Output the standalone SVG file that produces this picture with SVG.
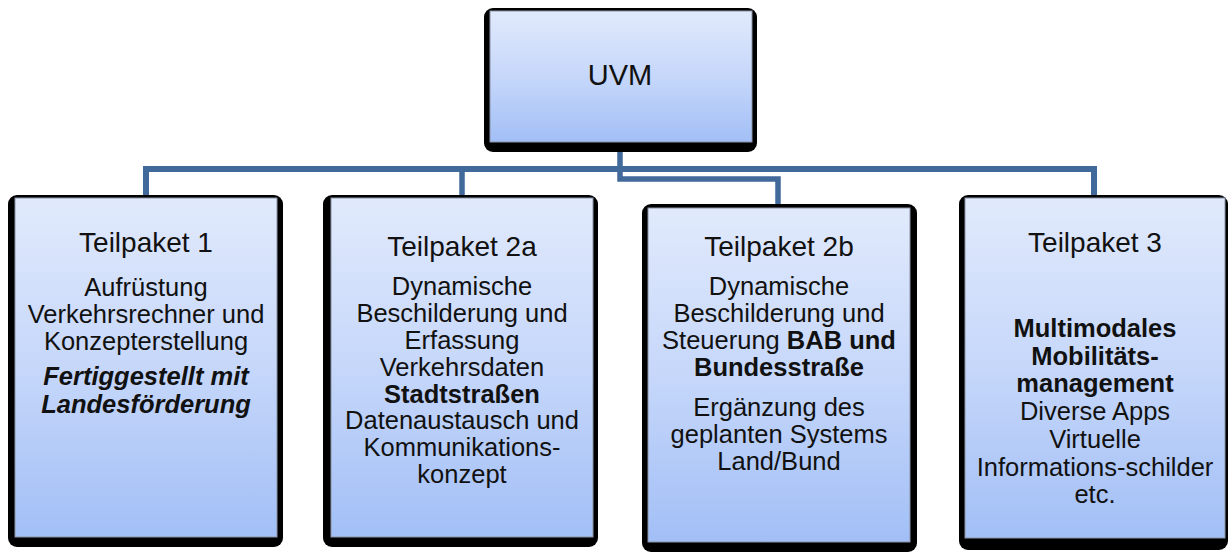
<svg xmlns="http://www.w3.org/2000/svg" width="1231" height="552" viewBox="0 0 1231 552">
<defs>
<linearGradient id="fill" x1="0" y1="0" x2="0" y2="1">
<stop offset="0" stop-color="#E1EAFC"/>
<stop offset="0.5" stop-color="#C6D7FA"/>
<stop offset="1" stop-color="#A2BFF6"/>
</linearGradient>
<style>
.shadow{fill:#000}
.box{fill:url(#fill);stroke:#8A94A6;stroke-width:1}
.conn{fill:none;stroke:#41699A;stroke-width:5.5;stroke-linejoin:miter}
.t{font-family:"Liberation Sans",Arial,sans-serif;fill:#111;text-anchor:middle}
.title{font-size:28px}
.body{font-size:25.5px}
.b{font-weight:bold}
.bi{font-weight:bold;font-style:italic}
</style>
</defs>
<rect width="1231" height="552" fill="#fff"/>
<g id="connectors">
<path class="conn" d="M146,196 V169 H1094 V196" style="stroke-width:6"/>
<path class="conn" d="M462,169 V196"/>
<path class="conn" d="M620,142 V179 H778 V206"/>
</g>
<g id="uvm">
<rect class="shadow" x="484" y="8" width="273" height="144" rx="9"/>
<rect class="box" x="490" y="11" width="262" height="131"/>
<text class="t" x="620" y="85" style="font-size:29px">UVM</text>
</g>
<g id="tp1">
<rect class="shadow" x="8" y="195" width="275" height="352" rx="9"/>
<rect class="box" x="15" y="198" width="262" height="339"/>
<text class="t title" x="146" y="252">Teilpaket 1</text>
<text class="t body" x="146" y="296">Aufrüstung</text>
<text class="t body" x="146" y="323">Verkehrsrechner und</text>
<text class="t body" x="146" y="350">Konzepterstellung</text>
<text class="t body bi" x="146" y="385">Fertiggestellt mit</text>
<text class="t body bi" x="146" y="413">Landesförderung</text>
</g>
<g id="tp2a">
<rect class="shadow" x="323" y="195" width="275" height="352" rx="9"/>
<rect class="box" x="331" y="198" width="262" height="339"/>
<text class="t title" x="462" y="256">Teilpaket 2a</text>
<text class="t body" x="462" y="295">Dynamische</text>
<text class="t body" x="462" y="322">Beschilderung und</text>
<text class="t body" x="462" y="349">Erfassung</text>
<text class="t body" x="462" y="376">Verkehrsdaten</text>
<text class="t body b" x="462" y="403">Stadtstraßen</text>
<text class="t body" x="462" y="429">Datenaustausch und</text>
<text class="t body" x="462" y="456">Kommunikations-</text>
<text class="t body" x="462" y="483">konzept</text>
</g>
<g id="tp2b">
<rect class="shadow" x="642" y="204" width="275" height="348" rx="9"/>
<rect class="box" x="648" y="208" width="262" height="334"/>
<text class="t title" x="779" y="256">Teilpaket 2b</text>
<text class="t body" x="779" y="295">Dynamische</text>
<text class="t body" x="779" y="322">Beschilderung und</text>
<text class="t body" x="779" y="349">Steuerung <tspan class="b">BAB und</tspan></text>
<text class="t body b" x="779" y="376">Bundesstraße</text>
<text class="t body" x="779" y="416">Ergänzung des</text>
<text class="t body" x="779" y="443">geplanten Systems</text>
<text class="t body" x="779" y="470">Land/Bund</text>
</g>
<g id="tp3">
<rect class="shadow" x="959" y="195" width="269" height="355" rx="9"/>
<rect class="box" x="965" y="198" width="260" height="340"/>
<text class="t title" x="1095" y="252">Teilpaket 3</text>
<text class="t body b" x="1095" y="337">Multimodales</text>
<text class="t body b" x="1095" y="365">Mobilitäts-</text>
<text class="t body b" x="1095" y="392">management</text>
<text class="t body" x="1095" y="420">Diverse Apps</text>
<text class="t body" x="1095" y="448">Virtuelle</text>
<text class="t body" x="1095" y="476">Informations-schilder</text>
<text class="t body" x="1095" y="503">etc.</text>
</g>
</svg>
